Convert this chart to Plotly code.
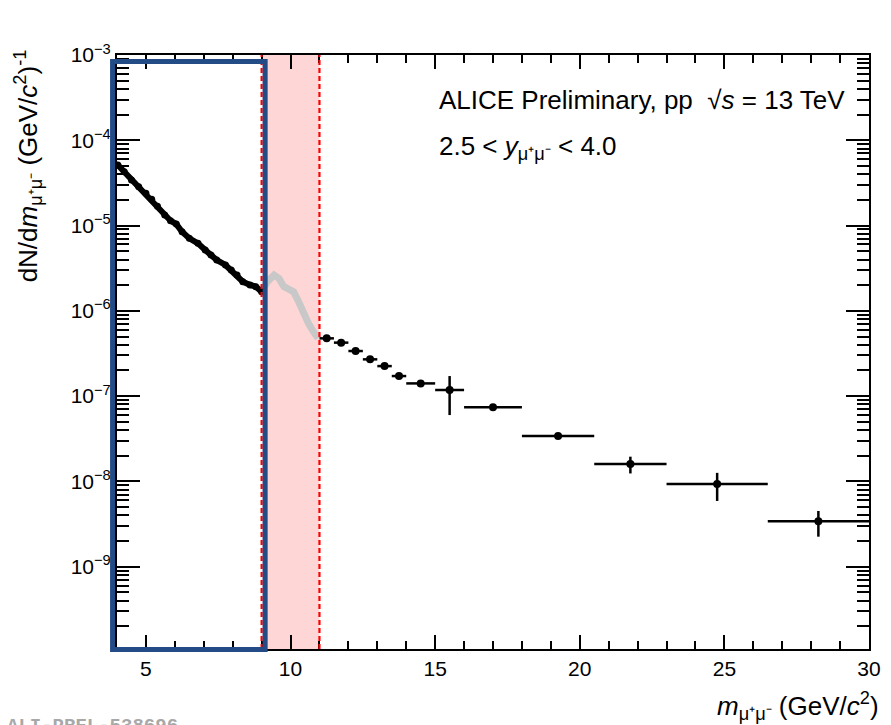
import plotly.graph_objects as go

# Low-mass continuum (dense black points, 4-9 GeV/c^2)
low_mass = [4.03, 4.25, 4.5, 4.75, 5.0, 5.2, 5.4, 5.65, 5.85, 6.05, 6.25, 6.5,
            6.8, 7.05, 7.25, 7.45, 7.75, 7.95, 8.15, 8.35, 8.6, 8.8, 9.0]
low_yield = [5.13e-5, 4.29e-5, 3.42e-5, 2.86e-5, 2.39e-5, 2.03e-5, 1.69e-5,
             1.33e-5, 1.14e-5, 1.04e-5, 8.47e-6, 7.08e-6, 6.19e-6, 5.16e-6,
             4.52e-6, 3.94e-6, 3.45e-6, 3.01e-6, 2.63e-6, 2.20e-6, 2.01e-6,
             1.92e-6, 1.67e-6]

# Upsilon region (grey, excluded 9-11 GeV/c^2)
ups_mass = [9.0, 9.2, 9.43, 9.6, 9.77, 9.94, 10.11, 10.28, 10.45, 10.62, 10.79, 10.95]
ups_yield = [1.67e-6, 2.20e-6, 2.63e-6, 2.40e-6, 1.92e-6, 1.75e-6, 1.67e-6,
             1.28e-6, 9.35e-7, 7.14e-7, 5.70e-7, 4.76e-7]

# High-mass binned points
high_mass = [11.25, 11.75, 12.25, 12.75, 13.25, 13.75, 14.5, 15.5, 17.0, 19.25, 21.75, 24.75, 28.25]
high_halfwidth = [0.25, 0.25, 0.25, 0.25, 0.25, 0.25, 0.5, 0.5, 1.0, 1.25, 1.25, 1.75, 1.75]
high_yield = [4.76e-7, 4.24e-7, 3.38e-7, 2.70e-7, 2.25e-7, 1.72e-7, 1.41e-7,
              1.18e-7, 7.4e-8, 3.4e-8, 1.6e-8, 9.3e-9, 3.4e-9]
high_err_up = [0, 0, 0, 0, 0, 0, 0, 5.4e-8, 0, 0, 3.5e-9, 3.3e-9, 1.1e-9]
high_err_dn = [0, 0, 0, 0, 0, 0, 0, 5.8e-8, 0, 0, 3.6e-9, 3.4e-9, 1.15e-9]

# Axis settings
x_range = [4, 30]
y_log_range = [-9.965, -3]
y_tickvals = [1e-9, 1e-8, 1e-7, 1e-6, 1e-5, 1e-4, 1e-3]
y_ticktext = ["10<sup>\u22129</sup>", "10<sup>\u22128</sup>", "10<sup>\u22127</sup>",
              "10<sup>\u22126</sup>", "10<sup>\u22125</sup>", "10<sup>\u22124</sup>",
              "10<sup>\u22123</sup>"]
x_tickvals = [5, 10, 15, 20, 25, 30]

# Excluded band (data coords) and highlighted low-mass box (paper coords)
band = [9, 11]
box_x = [-0.0059, 0.197]
box_y = [-0.001, 0.989]

FONT = "Liberation Sans, Arial, sans-serif"

fig = go.Figure()

fig.add_trace(go.Scatter(
    x=ups_mass, y=ups_yield, mode="lines",
    line=dict(color="#c8c8c8", width=7), hoverinfo="skip", showlegend=False))

fig.add_trace(go.Scatter(
    x=low_mass, y=low_yield, mode="lines+markers",
    line=dict(color="black", width=6), marker=dict(color="black", size=7),
    showlegend=False))

fig.add_trace(go.Scatter(
    x=high_mass, y=high_yield, mode="markers",
    marker=dict(color="black", size=8),
    error_x=dict(type="data", array=high_halfwidth, color="black", thickness=2.5, width=0),
    error_y=dict(type="data", array=high_err_up, arrayminus=high_err_dn,
                 color="black", thickness=2.5, width=0),
    showlegend=False))

# shaded excluded region
fig.add_shape(type="rect", xref="x", yref="paper", x0=band[0], x1=band[1], y0=0, y1=1,
              fillcolor="#ffd6d6", line=dict(width=0), layer="below")
for xb in band:
    fig.add_shape(type="line", xref="x", yref="paper", x0=xb, x1=xb, y0=0, y1=1,
                  line=dict(color="#ff0000", width=2.2, dash="5px,3px"), layer="above")

# blue highlight box
fig.add_shape(type="rect", xref="paper", yref="paper", x0=box_x[0], x1=box_x[1],
              y0=box_y[0], y1=box_y[1], line=dict(color="#234b85", width=5),
              fillcolor="rgba(0,0,0,0)", layer="above")

fig.add_annotation(xref="paper", yref="paper", x=0.4254, y=0.924, xanchor="left",
                   yanchor="middle", showarrow=False,
                   text="ALICE Preliminary, pp  \u221a<i>s</i> = 13 TeV",
                   font=dict(family=FONT, size=26, color="black"))
fig.add_annotation(xref="paper", yref="paper", x=0.4254, y=0.845, xanchor="left",
                   yanchor="middle", showarrow=False,
                   text="2.5 < <i>y</i><sub>\u03bc\u207a\u03bc\u207b</sub> < 4.0",
                   font=dict(family=FONT, size=26, color="black"))

# axis titles
fig.add_annotation(xref="paper", yref="paper", x=1, y=0, xanchor="right", yanchor="middle",
                   xshift=12, yshift=-57, showarrow=False,
                   text="<i>m</i><sub>\u03bc\u207a\u03bc\u207b</sub> (GeV/<i>c</i><sup>2</sup>)",
                   font=dict(family=FONT, size=26, color="black"))
fig.add_annotation(xref="paper", yref="paper", x=0, y=1.012, xshift=-89, xanchor="center",
                   yanchor="top", textangle=-90, showarrow=False,
                   text="dN/d<i>m</i><sub>\u03bc\u207a\u03bc\u207b</sub> (GeV/<i>c</i><sup>2</sup>)<sup>-1</sup>",
                   font=dict(family=FONT, size=26, color="black"))

fig.add_annotation(xref="paper", yref="paper", x=0, y=0, xshift=-112, yshift=-77,
                   xanchor="left", yanchor="middle", showarrow=False,
                   text="<b>ALI-PREL-538696</b>",
                   font=dict(family="Liberation Mono, monospace", size=19, color="#a8a8a8"))

fig.update_xaxes(range=x_range, tickvals=x_tickvals, ticks="inside", ticklen=14,
                 tickwidth=1.5, tickcolor="black", showline=True, linecolor="black",
                 linewidth=2, mirror="ticks", showgrid=False, zeroline=False,
                 tickfont=dict(family=FONT, size=21, color="black"),
                 minor=dict(dtick=1, ticks="inside", ticklen=8, tickcolor="black",
                            tickwidth=1.5, showgrid=False))
fig.update_yaxes(type="log", range=y_log_range, tickvals=y_tickvals, ticktext=y_ticktext,
                 ticks="inside", ticklen=23, tickwidth=1.5, tickcolor="black",
                 showline=True, linecolor="black", linewidth=2, mirror="ticks",
                 showgrid=False, zeroline=False,
                 tickfont=dict(family=FONT, size=21, color="black"),
                 minor=dict(dtick="D1", ticks="inside", ticklen=12, tickcolor="black",
                            tickwidth=1.5, showgrid=False))

fig.update_layout(width=891, height=725, margin=dict(l=117, r=10, t=55, b=76),
                  plot_bgcolor="white", paper_bgcolor="white",
                  font=dict(family=FONT, color="black"))

fig.write_html("out.html")
